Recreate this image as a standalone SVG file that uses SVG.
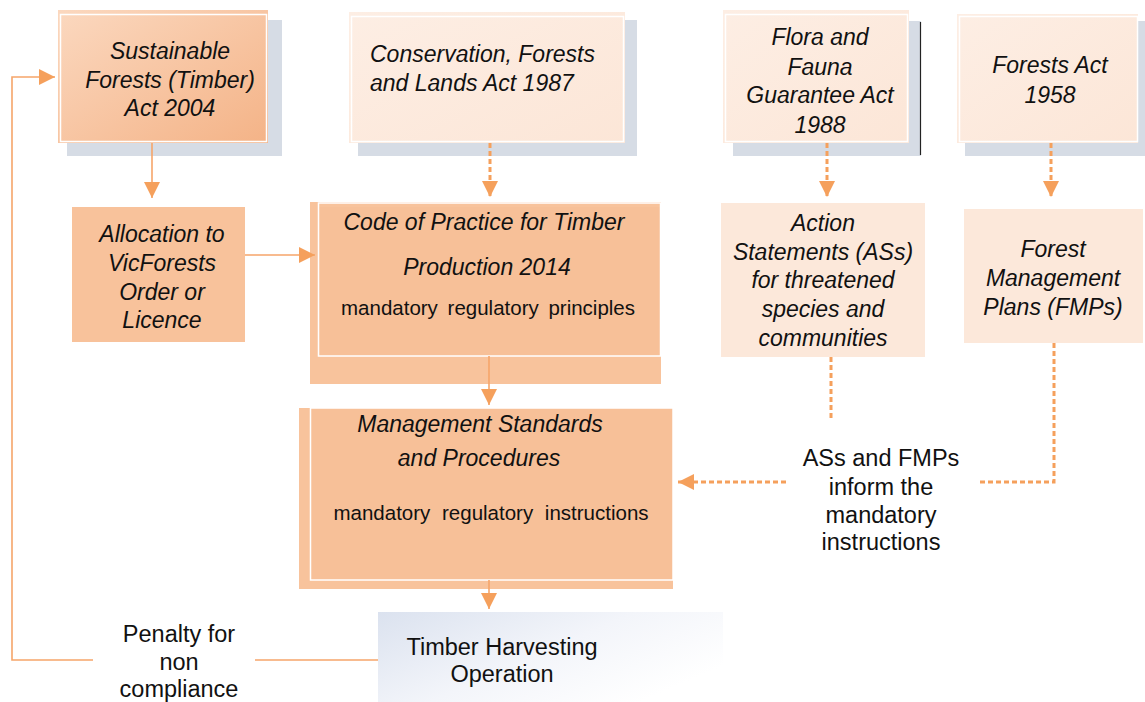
<svg xmlns="http://www.w3.org/2000/svg" width="1145" height="702" viewBox="0 0 1145 702">
<defs>
<linearGradient id="gSus" x1="0" y1="0" x2="1" y2="1">
<stop offset="0" stop-color="#fbd8bf"/>
<stop offset="1" stop-color="#f4b387"/>
</linearGradient>
<linearGradient id="gLight" x1="0" y1="0" x2="1" y2="1">
<stop offset="0" stop-color="#fdeee4"/>
<stop offset="1" stop-color="#fce6d7"/>
</linearGradient>
<linearGradient id="gTim" x1="0" y1="0" x2="1" y2="0.6">
<stop offset="0" stop-color="#dbe2ef"/>
<stop offset="0.55" stop-color="#f3f5fa"/>
<stop offset="1" stop-color="#ffffff"/>
</linearGradient>
<marker id="ah" viewBox="0 0 10 10" refX="10" refY="5" markerWidth="17" markerHeight="16" markerUnits="userSpaceOnUse" orient="auto">
<path d="M0,0 L10,5 L0,10 z" fill="#f5a05c"/>
</marker>
</defs>
<style>
.shadow{fill:#d6dce5}
.inner{fill:none;stroke:#ffffff;stroke-width:1.5}
.it{font-family:"Liberation Sans",Arial,sans-serif;font-style:italic;font-size:23px;fill:#111;text-anchor:middle}
.rg{font-family:"Liberation Sans",Arial,sans-serif;font-size:23.5px;fill:#111;text-anchor:middle}
.sm{font-family:"Liberation Sans",Arial,sans-serif;font-size:20.5px;fill:#111;text-anchor:middle}
.solid{fill:none;stroke:#f6a56a;stroke-width:1.6}
.dash{fill:none;stroke:#f5a05c;stroke-width:3;stroke-dasharray:5 3}
</style>
<rect width="1145" height="702" fill="#ffffff"/>

<g id="n-sustainable">
<rect class="shadow" x="67" y="20" width="215" height="136"/>
<rect x="58" y="10" width="210" height="133" fill="url(#gSus)"/>
<rect class="inner" x="60.5" y="14.5" width="206" height="127"/>
<text class="it" x="170" y="59">Sustainable</text>
<text class="it" x="170" y="88">Forests (Timber)</text>
<text class="it" x="170" y="116">Act 2004</text>
</g>

<g id="n-conservation">
<rect class="shadow" x="358" y="20" width="279" height="136"/>
<rect x="349" y="12" width="276" height="131" fill="url(#gLight)"/>
<rect class="inner" x="351.5" y="16.5" width="272" height="125"/>
<text class="it" x="370" y="62" style="text-anchor:start">Conservation, Forests</text>
<text class="it" x="370" y="91" style="text-anchor:start">and Lands Act 1987</text>
</g>

<g id="n-flora">
<rect class="shadow" x="733" y="21" width="188" height="135"/>
<line x1="920.5" y1="22" x2="920.5" y2="155" stroke="#222" stroke-width="1.2"/>
<rect x="723" y="10" width="186" height="133" fill="url(#gLight)"/>
<rect class="inner" x="725.5" y="14.5" width="182" height="127"/>
<text class="it" x="820" y="45">Flora and</text>
<text class="it" x="820" y="75">Fauna</text>
<text class="it" x="820" y="103">Guarantee Act</text>
<text class="it" x="820" y="133">1988</text>
</g>

<g id="n-forestsact">
<rect class="shadow" x="965" y="21" width="180" height="135"/>
<rect x="957" y="14" width="181" height="129" fill="url(#gLight)"/>
<rect class="inner" x="959.5" y="16.5" width="178" height="125"/>
<text class="it" x="1050" y="73">Forests Act</text>
<text class="it" x="1050" y="103">1958</text>
</g>

<g id="n-allocation">
<rect x="72" y="207" width="173" height="135" fill="#f8c29b"/>
<text class="it" x="162" y="242">Allocation to</text>
<text class="it" x="162" y="271">VicForests</text>
<text class="it" x="162" y="300">Order or</text>
<text class="it" x="162" y="328">Licence</text>
</g>

<g id="n-code">
<rect x="310" y="202" width="351" height="182" fill="#f8c39c"/>
<rect x="318" y="207" width="343" height="149" fill="#f7c098"/>
<rect class="inner" x="318.5" y="203" width="342" height="153"/>
<text class="it" x="484" y="230">Code of Practice for Timber</text>
<text class="it" x="487" y="275">Production 2014</text>
<text class="sm" x="488" y="315" word-spacing="4">mandatory regulatory principles</text>
</g>

<g id="n-management">
<rect x="299" y="408" width="374" height="181" fill="#f8c39c"/>
<rect x="310" y="409" width="363" height="171" fill="#f7c098"/>
<rect class="inner" x="310.5" y="408" width="362.5" height="172"/>
<text class="it" x="480" y="432">Management Standards</text>
<text class="it" x="479" y="466">and Procedures</text>
<text class="sm" x="491" y="520" word-spacing="6">mandatory regulatory instructions</text>
</g>

<g id="n-actions">
<rect x="721" y="203" width="204" height="154" fill="#fce8da"/>
<text class="it" x="823" y="231">Action</text>
<text class="it" x="823" y="260">Statements (ASs)</text>
<text class="it" x="823" y="288">for threatened</text>
<text class="it" x="823" y="317">species and</text>
<text class="it" x="823" y="346">communities</text>
</g>

<g id="n-fmp">
<rect x="964" y="209" width="179" height="134" fill="#fce8da"/>
<text class="it" x="1053" y="257">Forest</text>
<text class="it" x="1053" y="286">Management</text>
<text class="it" x="1053" y="315">Plans (FMPs)</text>
</g>

<g id="n-timber">
<rect x="378" y="612" width="345" height="90" fill="url(#gTim)"/>
<text class="rg" x="502" y="655">Timber Harvesting</text>
<text class="rg" x="502" y="682">Operation</text>
</g>

<g id="n-penalty">
<text class="rg" x="179" y="642">Penalty for</text>
<text class="rg" x="179" y="670">non</text>
<text class="rg" x="179" y="697">compliance</text>
</g>

<g id="n-inform">
<text class="rg" x="881" y="466">ASs and FMPs</text>
<text class="rg" x="881" y="495">inform the</text>
<text class="rg" x="881" y="523">mandatory</text>
<text class="rg" x="881" y="550">instructions</text>
</g>

<g id="connectors">
<line class="solid" x1="152" y1="143" x2="152" y2="198" marker-end="url(#ah)"/>
<line class="solid" x1="245" y1="255" x2="315" y2="255" marker-end="url(#ah)"/>
<line class="solid" x1="489" y1="356" x2="489" y2="405" marker-end="url(#ah)"/>
<line class="solid" x1="489" y1="580" x2="489" y2="609" marker-end="url(#ah)"/>
<line class="solid" x1="378" y1="660" x2="255" y2="660"/>
<polyline class="solid" points="93,660 12,660 12,77 55,77" marker-end="url(#ah)"/>
<line class="dash" x1="490" y1="143" x2="490" y2="197" marker-end="url(#ah)"/>
<line class="dash" x1="827" y1="143" x2="827" y2="197" marker-end="url(#ah)"/>
<line class="dash" x1="1051" y1="143" x2="1051" y2="197" marker-end="url(#ah)"/>
<line class="dash" x1="831" y1="357" x2="831" y2="418"/>
<polyline class="dash" points="1054,343 1054,482 977,482"/>
<line class="dash" x1="786" y1="482" x2="678" y2="482" marker-end="url(#ah)"/>
</g>
</svg>
